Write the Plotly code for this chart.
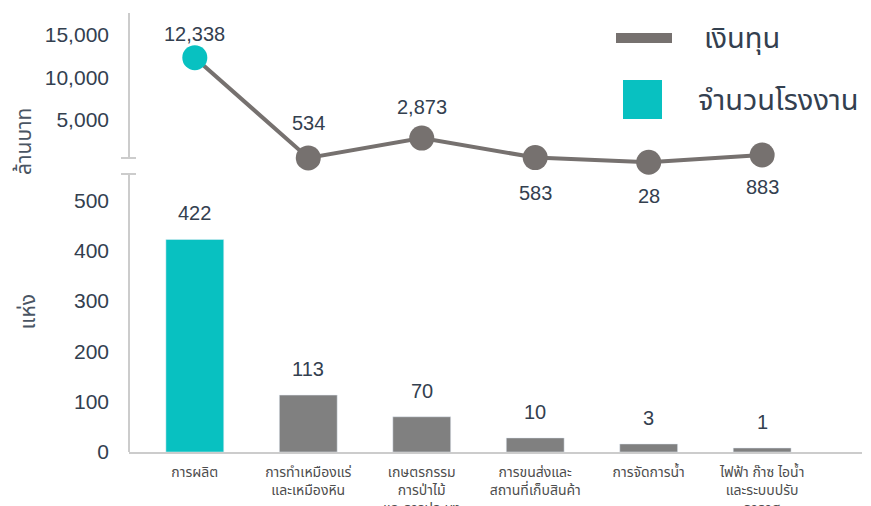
import plotly.graph_objects as go

# หมวดอุตสาหกรรม
categories = ["การผลิต",
              "การทำเหมืองแร่<br>และเหมืองหิน",
              "เกษตรกรรม<br>การป่าไม้<br>และการประมง",
              "การขนส่งและ<br>สถานที่เก็บสินค้า",
              "การจัดการน้ำ",
              "ไฟฟ้า ก๊าซ ไอน้ำ<br>และระบบปรับ<br>อากาศ"]

# เงินทุน (ล้านบาท)
investment = [12338, 534, 2873, 583, 28, 883]
investment_text = ["12,338", "534", "2,873", "583", "28", "883"]

# จำนวนโรงงาน (แห่ง) - small bars are drawn taller in the picture than their value
factories_text = ["422", "113", "70", "10", "3", "1"]
factories_drawn = [422, 113, 70, 28, 16, 8]

top_ticks = [5000, 10000, 15000]
bottom_ticks = [0, 100, 200, 300, 400, 500]

# label offsets (px) for the line labels: + above, - below
line_label_shift = [24, 35, 31, -35, -34, -32]

TEAL = "#08c1c1"
GREY_BAR = "#808080"
GREY_LINE = "#76716f"
TXT = "#33404f"
AXIS = "#cccccc"
NUMFONT = "Liberation Sans, Arial, sans-serif"
THAIFONT = "Noto Sans Thai, Liberation Sans, sans-serif"
THAI_SHIFT = 23  # thai glyphs sit low in their box

W, H = 871, 506
OX, OY = 8, 8  # page body margin
def px_x(p):
    return (p - OX) / W
def px_y(p):
    return 1 - (p - OY) / H

x_idx = list(range(len(categories)))
bar_colors = [TEAL] + [GREY_BAR] * (len(categories) - 1)
marker_colors = [TEAL] + [GREY_LINE] * (len(categories) - 1)

fig = go.Figure()
fig.add_trace(go.Bar(x=x_idx, y=factories_drawn, marker_color=bar_colors,
                     width=0.51, xaxis="x", yaxis="y", showlegend=False,
                     hoverinfo="skip"))
fig.add_trace(go.Scatter(x=x_idx, y=investment, mode="lines+markers",
                         line=dict(color=GREY_LINE, width=4),
                         marker=dict(size=25, color=marker_colors),
                         xaxis="x2", yaxis="y2", showlegend=False,
                         cliponaxis=False, hoverinfo="skip"))

ann = []
for i in x_idx:
    ann.append(dict(x=i, y=factories_drawn[i], xref="x", yref="y",
                    text=factories_text[i], showarrow=False, yshift=26,
                    font=dict(size=20, color=TXT, family=NUMFONT)))
for i in x_idx:
    ann.append(dict(x=i, y=investment[i], xref="x2", yref="y2",
                    text=investment_text[i], showarrow=False,
                    yshift=line_label_shift[i],
                    font=dict(size=20, color=TXT, family=NUMFONT)))

# axis titles
ann.append(dict(x=px_x(21), y=px_y(141), xref="paper", yref="paper",
                text="ล้านบาท", textangle=-90, showarrow=False,
                xshift=-14, yshift=35,
                font=dict(size=21, color="#4a5563", family=THAIFONT)))
ann.append(dict(x=px_x(24), y=px_y(312), xref="paper", yref="paper",
                text="แห่ง", textangle=-90, showarrow=False,
                xshift=-14,
                font=dict(size=21, color="#4a5563", family=THAIFONT)))

# legend
ann.append(dict(x=px_x(702), y=px_y(38), xref="paper", yref="paper",
                xanchor="left", text="เงินทุน", showarrow=False,
                yshift=THAI_SHIFT,
                font=dict(size=29, color=TXT, family=THAIFONT)))
ann.append(dict(x=px_x(696), y=px_y(99), xref="paper", yref="paper",
                xanchor="left", text="จำนวนโรงงาน", showarrow=False,
                yshift=THAI_SHIFT - 1,
                font=dict(size=29, color=TXT, family=THAIFONT)))

shapes = [
    # legend symbols
    dict(type="rect", xref="paper", yref="paper", x0=px_x(616), x1=px_x(672),
         y0=px_y(43), y1=px_y(33), fillcolor=GREY_LINE, line_width=0),
    dict(type="rect", xref="paper", yref="paper", x0=px_x(623), x1=px_x(662),
         y0=px_y(119), y1=px_y(80), fillcolor=TEAL, line_width=0),
    # broken y axis
    dict(type="line", xref="paper", yref="paper", x0=px_x(129), x1=px_x(129),
         y0=px_y(13), y1=px_y(158), line=dict(color=AXIS, width=2)),
    dict(type="line", xref="paper", yref="paper", x0=px_x(121), x1=px_x(136),
         y0=px_y(158), y1=px_y(158), line=dict(color=AXIS, width=2)),
    dict(type="line", xref="paper", yref="paper", x0=px_x(121), x1=px_x(136),
         y0=px_y(174), y1=px_y(174), line=dict(color=AXIS, width=2)),
    dict(type="line", xref="paper", yref="paper", x0=px_x(129), x1=px_x(129),
         y0=px_y(174), y1=px_y(452), line=dict(color=AXIS, width=2)),
]

xrange = [-0.58, 5.88]
fig.update_layout(
    width=W, height=H,
    margin=dict(l=0, r=0, t=0, b=0, autoexpand=False),
    plot_bgcolor="white", paper_bgcolor="white",
    font=dict(family=NUMFONT, color=TXT),
    xaxis=dict(domain=[px_x(129), px_x(862)], range=xrange,
               tickmode="array", tickvals=x_idx, ticktext=categories,
               tickfont=dict(size=14, color="#4d4d4d", family=THAIFONT),
               showline=True, linecolor=AXIS, linewidth=2,
               showgrid=False, zeroline=False, ticks="",
               ticklabelstandoff=6, automargin=False, anchor="y"),
    yaxis=dict(domain=[px_y(452), px_y(178)], range=[0, 544],
               tickvals=bottom_ticks, tickfont=dict(size=21, color=TXT),
               showgrid=False, zeroline=False, showline=False,
               ticklabelstandoff=19, automargin=False, anchor="x"),
    xaxis2=dict(domain=[px_x(129), px_x(862)], range=xrange, visible=False,
                automargin=False, anchor="y2"),
    yaxis2=dict(domain=[px_y(180), px_y(13)], range=[-2059, 17588],
                tickvals=top_ticks, tickformat=",", tickfont=dict(size=21, color=TXT),
                showgrid=False, zeroline=False, showline=False,
                ticklabelstandoff=19, automargin=False, anchor="x2"),
    annotations=ann,
    shapes=shapes,
)

fig.write_html("out.html")
